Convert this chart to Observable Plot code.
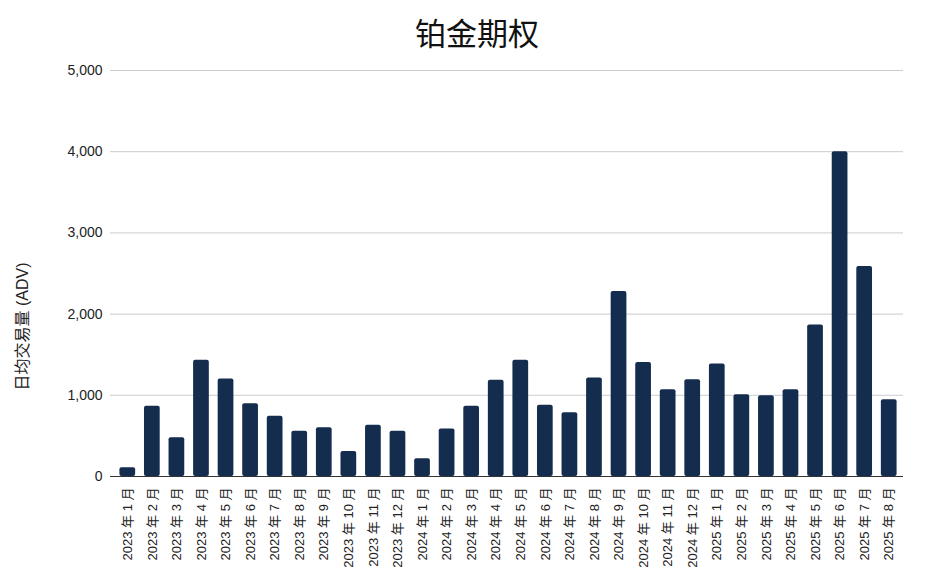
<!DOCTYPE html>
<html><head><meta charset="utf-8">
<script src="https://cdn.jsdelivr.net/npm/d3@7"></script>
<script src="https://cdn.jsdelivr.net/npm/@observablehq/plot@0.6"></script>
<style>
body{margin:0;background:#fff;font-family:"Liberation Sans","Noto Sans CJK SC",sans-serif;}
#title{height:60px;text-align:center;font-family:"Noto Sans CJK SC",sans-serif;font-size:31px;line-height:64px;color:#111;padding-left:20px;box-sizing:border-box;}
</style></head>
<body>
<div id="title">铂金期权</div>
<div id="chart"></div>
<script>
const months = ["2023 年 1 月","2023 年 2 月","2023 年 3 月","2023 年 4 月","2023 年 5 月","2023 年 6 月","2023 年 7 月","2023 年 8 月","2023 年 9 月","2023 年 10 月","2023 年 11 月","2023 年 12 月",
"2024 年 1 月","2024 年 2 月","2024 年 3 月","2024 年 4 月","2024 年 5 月","2024 年 6 月","2024 年 7 月","2024 年 8 月","2024 年 9 月","2024 年 10 月","2024 年 11 月","2024 年 12 月",
"2025 年 1 月","2025 年 2 月","2025 年 3 月","2025 年 4 月","2025 年 5 月","2025 年 6 月","2025 年 7 月","2025 年 8 月"];
const adv = [107,864,478,1432,1201,897,741,556,601,309,630,556,
218,584,864,1185,1432,877,786,1214,2277,1403,1067,1190,
1387,1006,993,1067,1867,4000,2585,944];
const yTicks = [0,1000,2000,3000,4000,5000];
const yLabel = "日均交易量 (ADV)";

const data = months.map((m,i)=>({month:m, value:adv[i]}));

const chart = Plot.plot({
  width: 934,
  height: 509,
  marginTop: 10,
  marginBottom: 93,
  marginLeft: 110,
  marginRight: 31,
  style: {fontFamily: '"Liberation Sans","Noto Sans CJK SC",sans-serif', fontSize: "14px", color: "#222"},
  x: {domain: months, paddingInner: 0.36, paddingOuter: 0.18, round: false, label: null, insetLeft: 5, insetRight: 2},
  y: {domain: [0,5000], ticks: yTicks, label: null},
  marks: [
    Plot.ruleY(yTicks.filter(d=>d>0), {stroke: "#cccccc", strokeWidth: 1}),
    Plot.barY(data, {x: "month", y: "value", fill: "#142d4e", rx: 2}),
    Plot.ruleY([0], {stroke: "#333", strokeWidth: 1}),
    Plot.axisX({tickSize: 0, tickPadding: 11, tickRotate: -90, fontSize: 13, fill: "#222"}),
    Plot.axisY({ticks: yTicks, tickFormat: d3.format(","), tickSize: 0, tickPadding: 8, fontSize: 14, fill: "#222"}),
    Plot.text([yLabel], {frameAnchor: "left", textAnchor: "middle", dx: -88, dy: 53, rotate: -90, fontSize: 16, fill: "#222", text: d=>d})
  ]
});
document.getElementById("chart").appendChild(chart);
</script>
</body></html>
